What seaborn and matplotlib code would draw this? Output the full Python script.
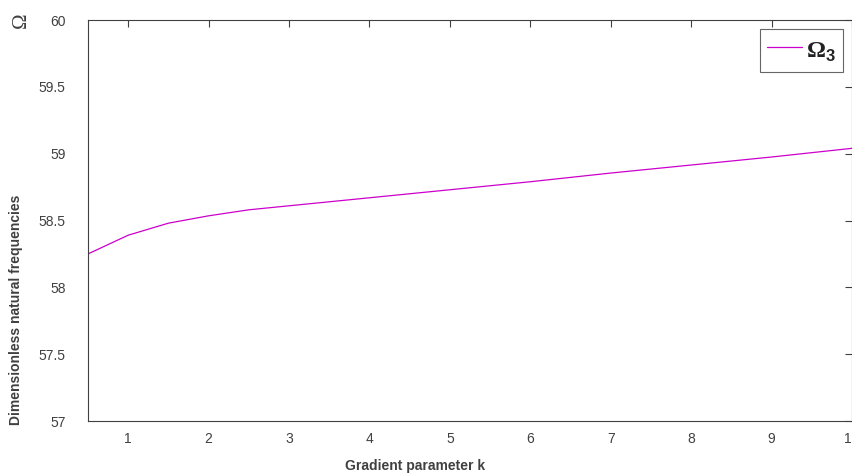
import pandas as pd
import seaborn as sns
import matplotlib.pyplot as plt

# valores
k_values = [0.5, 1, 1.5, 2, 2.5, 3, 4, 5, 6, 7, 8, 9, 10]
omega3 = [58.25, 58.39, 58.48, 58.535, 58.58, 58.61, 58.67, 58.73, 58.79, 58.855, 58.915, 58.975, 59.04]
x_ticks = [1, 2, 3, 4, 5, 6, 7, 8, 9, 10]
y_ticks = [57, 57.5, 58, 58.5, 59, 59.5, 60]
y_tick_labels = ['57', '57.5', '58', '58.5', '59', '59.5', '60']

df = pd.DataFrame({'k': k_values, 'omega': omega3})

sns.set_style('white')
plt.rcParams['font.family'] = ['Liberation Sans', 'DejaVu Sans']
plt.rcParams['mathtext.fontset'] = 'custom'
plt.rcParams['mathtext.rm'] = 'Liberation Serif'
plt.rcParams['mathtext.bf'] = 'Liberation Serif:bold'
plt.rcParams['mathtext.sf'] = 'Liberation Sans:bold'

gray = '#404040'
fig = plt.figure(figsize=(8.53, 4.76), dpi=100)
ax = fig.add_axes([88 / 853, 1 - 421 / 476, 764 / 853, 401 / 476])

sns.lineplot(data=df, x='k', y='omega', ax=ax, color='#cc00cc', linewidth=0.9,
             label=r'$\mathbf{\Omega}_{\mathsf{3}}$')

ax.set_xlim(0.5, 10)
ax.set_ylim(57, 60)
ax.set_xticks(x_ticks)
ax.set_yticks(y_ticks)
ax.set_yticklabels(y_tick_labels)
ax.tick_params(direction='in', length=5, width=0.8, colors=gray, labelsize=10,
               top=True, right=True, pad=8)
ax.tick_params(axis='y', pad=16)
for s in ax.spines.values():
    s.set_color(gray)
    s.set_linewidth(0.8)
ax.set_xlabel('')
ax.set_ylabel('')

fig.text(415 / 853, 1 - 466 / 476, 'Gradient parameter k', ha='center', va='center',
         fontsize=10, fontweight='bold', color=gray)
fig.text(16 / 853, 1 - 310 / 476, 'Dimensionless natural frequencies', ha='center',
         va='center', rotation=90, fontsize=10, fontweight='bold', color=gray)
fig.text(22 / 853, 1 - 22 / 476, r'$\Omega$', ha='center', va='center', rotation=90,
         fontsize=15, color=gray)

leg = ax.legend(loc='upper right', fontsize=17, frameon=True, fancybox=False,
                handlelength=1.5, handleheight=1.5, handletextpad=0.15, borderpad=0.3,
                borderaxespad=0, bbox_to_anchor=(0.988, 0.978))
leg.get_frame().set_edgecolor(gray)
leg.get_frame().set_linewidth(0.8)
for t in leg.get_texts():
    t.set_color('#222222')

fig.savefig('out.png', dpi=100)
plt.close(fig)
